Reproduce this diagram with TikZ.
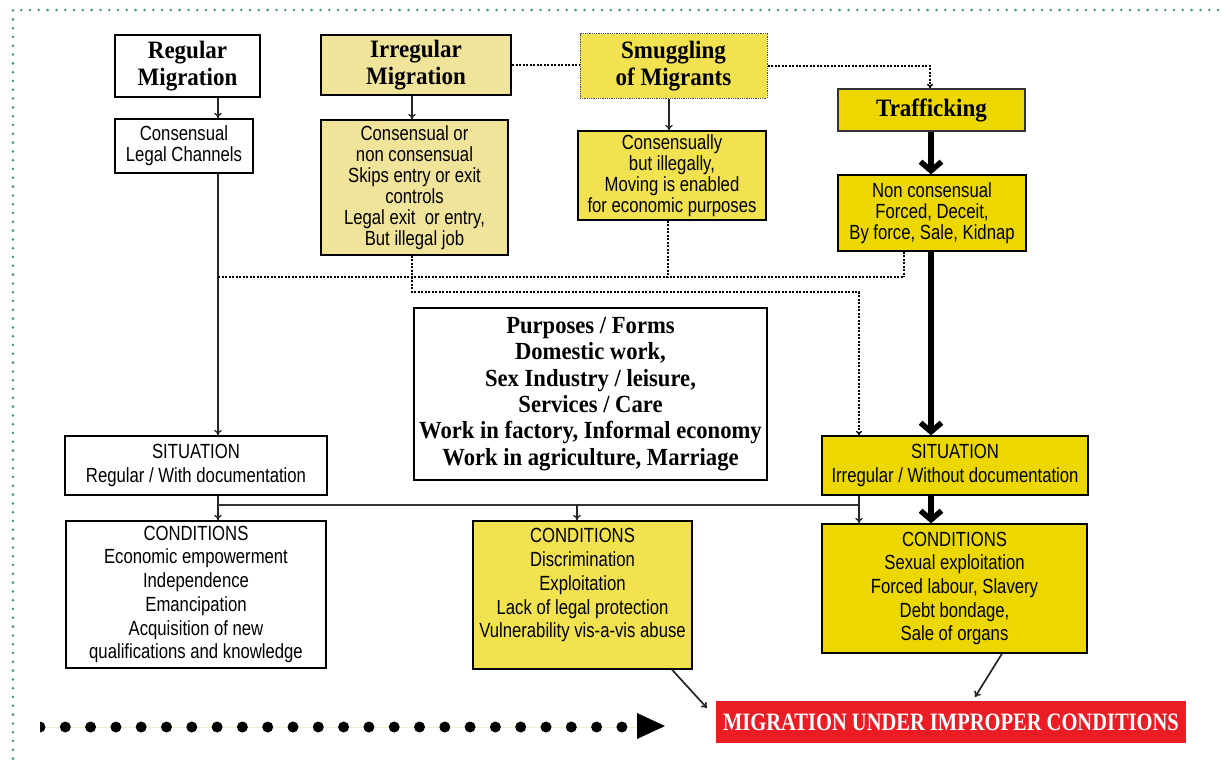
\documentclass[tikz,border=0pt]{standalone}
\usepackage{fontspec}
\setmainfont{Liberation Serif}
\newfontfamily\ttlfont[FakeStretch=0.92]{Liberation Serif}
\newfontfamily\redfont[FakeStretch=0.82]{Liberation Serif}
\newfontfamily\bodfont[FakeStretch=0.815]{Liberation Sans}
\usetikzlibrary{arrows.meta}
\definecolor{ylight}{HTML}{F0E39A}
\definecolor{ymid}{HTML}{F2E250}
\definecolor{ystrong}{HTML}{ECD800}
\definecolor{redbox}{HTML}{EC1C24}
\definecolor{bordergreen}{HTML}{3A9860}
\definecolor{paleline}{HTML}{F2EFC8}
\begin{document}
\begin{tikzpicture}[x=1pt,y=-1pt,
  box/.style={draw=black, line width=1.3pt, inner sep=0pt, align=center, rectangle},
  ttlbox/.style={box, line width=2.4pt, font=\ttlfont\bfseries\fontsize{25}{27}\selectfont},
  txtbox/.style={box, font=\bodfont\fontsize{20.5}{21}\selectfont},
  sitbox/.style={box, font=\bodfont\fontsize{20.5}{23.7}\selectfont},
  thinarr/.style={line width=1.3pt, draw=black!85, -{To[length=5.5pt,width=7.5pt]}},
  thinline/.style={line width=1.4pt, draw=black!80},
  thickarr/.style={line width=5.5pt, -{Straight Barb[length=9pt,width=21pt]}},
  dotline/.style={line width=1.4pt, dash pattern=on 2pt off 1.5pt},
  dotarr/.style={dotline, -{To[length=4.5pt,width=6pt]}}
]
\useasboundingbox (0,0) rectangle (1222,760);

% green dotted frame
\draw[bordergreen, line width=2.8pt, line cap=round, dash pattern=on 0pt off 8.8pt]
  (1218,10) -- (13,10) -- (13,760);

% top row
\node[ttlbox, fill=white, minimum width=145pt, minimum height=62pt] (reg) at (187.5,66) {Regular\\Migration};
\node[ttlbox, fill=ylight, minimum width=190pt, minimum height=60pt] (irr) at (416,65) {Irregular\\Migration};
\node[box, fill=ymid, draw=black!70, line width=1pt, dash pattern=on 1pt off 0.8pt,
      font=\ttlfont\bfseries\fontsize{25}{27}\selectfont,
      minimum width=187pt, minimum height=64pt] (smg) at (673.5,66) {Smuggling\\of Migrants};
\node[box, fill=ystrong, draw=black!80, line width=1.2pt,
      font=\ttlfont\bfseries\fontsize{25}{27}\selectfont,
      minimum width=187pt, minimum height=42pt] (trf) at (931.5,110) {Trafficking};

% descriptions
\node[txtbox, fill=white, minimum width=138pt, minimum height=54pt] (cons) at (184,146) {Consensual\\Legal Channels};
\node[txtbox, fill=ylight, minimum width=187pt, minimum height=135pt] (irrd) at (414.5,187.5)
  {Consensual or\\non consensual\\Skips entry or exit\\controls\\Legal exit~ or entry,\\But illegal job};
\node[txtbox, fill=ymid, minimum width=188pt, minimum height=89pt] (smgd) at (672,175.5)
  {Consensually\\but illegally,\\Moving is enabled\\for economic purposes};
\node[txtbox, fill=ystrong, minimum width=188pt, minimum height=76pt] (trfd) at (932,213)
  {Non consensual\\Forced, Deceit,\\By force, Sale, Kidnap};

% purposes
\node[box, fill=white, line width=2.4pt, font=\ttlfont\bfseries\fontsize{24.6}{26.4}\selectfont,
      minimum width=353pt, minimum height=172pt] (purp) at (590.5,394)
  {Purposes / Forms\\Domestic work,\\Sex Industry / leisure,\\Services / Care\\Work in factory, Informal economy\\Work in agriculture, Marriage};

% situations
\node[sitbox, fill=white, minimum width=262pt, minimum height=59pt] (sitr) at (196,465.5)
  {SITUATION\\Regular / With documentation};
\node[sitbox, fill=ystrong, minimum width=266pt, minimum height=59pt] (siti) at (955,465.5)
  {SITUATION\\Irregular / Without documentation};

% conditions
\node[sitbox, fill=white, minimum width=260pt, minimum height=147pt] (condr) at (196,594.5)
  {CONDITIONS\\Economic empowerment\\Independence\\Emancipation\\Acquisition of new\\qualifications and knowledge};
\node[sitbox, fill=ymid, minimum width=219pt, minimum height=148pt] (condm) at (582.5,595)
  {CONDITIONS\\Discrimination\\Exploitation\\Lack of legal protection\\Vulnerability vis-a-vis abuse\\\mbox{}};
\node[sitbox, fill=ystrong, minimum width=265pt, minimum height=129pt] (condi) at (954.5,588.5)
  {CONDITIONS\\Sexual exploitation\\Forced labour, Slavery\\Debt bondage,\\Sale of organs};

% result
\node[inner sep=0pt, fill=redbox, text=white, font=\redfont\bfseries\fontsize{25}{27}\selectfont,
      minimum width=470pt, minimum height=42pt] (red) at (951,722) {MIGRATION UNDER IMPROPER CONDITIONS};

% helper coordinates
\coordinate (xa) at (218,0);
\coordinate (xb) at (412,0);
\coordinate (xc) at (669,0);
\coordinate (xt) at (931,0);
\coordinate (xd) at (904,0);
\coordinate (xe) at (668,0);
\coordinate (xf) at (859,0);
\coordinate (xg) at (577,0);
\coordinate (xh) at (930,0);
\coordinate (xm) at (672,0);
\coordinate (xr) at (1002,0);
\coordinate (y1) at (0,277);
\coordinate (y2) at (0,292);
\coordinate (y3) at (0,505);
\coordinate (r1) at (707,708);
\coordinate (r2) at (975,697);

% solid connectors
\draw[thinarr] (reg.south -| xa) -- (cons.north -| xa);
\draw[thinarr] (cons.south -| xa) -- (sitr.north -| xa);
\draw[thinarr] (irr.south -| xb) -- (irrd.north -| xb);
\draw[thinarr] (smg.south -| xc) -- (smgd.north -| xc);
\draw[thickarr] (trf.south -| xt) -- (trfd.north -| xt);
\draw[thickarr] (trfd.south -| xt) -- (siti.north -| xt);
\draw[thickarr] (siti.south -| xt) -- (condi.north -| xt);

% dotted connectors
\draw[dotline] (irr.east) -- (irr.east -| smg.west);
\draw[dotarr] (smg.east) -- (smg.east -| xh) -- (trf.north -| xh);
\draw[dotline] (xa |- y1) -- (xd |- y1);
\draw[dotline] (smgd.south -| xe) -- (xe |- y1);
\draw[dotline] (trfd.south -| xd) -- (xd |- y1);
\draw[dotarr] (irrd.south -| xb) -- (xb |- y2) -- (xf |- y2) -- (siti.north -| xf);

% lower tree
\draw[thinarr] (sitr.south -| xa) -- (condr.north -| xa);
\draw[thinline] (xa |- y3) -- (xf |- y3);
\draw[thinarr] (xg |- y3) -- (condm.north -| xg);
\draw[thinarr] (siti.south -| xf) -- (condi.north -| xf);

% to result
\draw[thinarr, line width=1.7pt] (condm.south -| xm) -- (r1);
\draw[thinarr, line width=1.7pt] (condi.south -| xr) -- (r2);

% dotted big arrow
\begin{scope}
  \clip (40,700) rectangle (640,750);
  \draw[paleline, line width=0.8pt] (40,727) -- (637,727);
  \foreach \i in {0,...,23} \fill (40+25.3*\i,727) circle (5.5);
\end{scope}
\fill (637,713) -- (637,739) -- (665,726) -- cycle;
\end{tikzpicture}
\end{document}
